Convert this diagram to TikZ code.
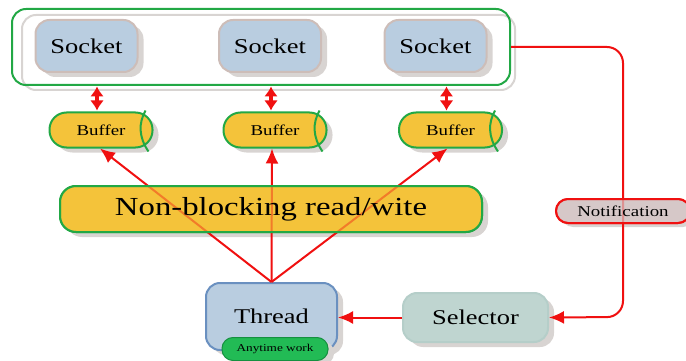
\documentclass[tikz,border=0pt]{standalone}
\usepackage{fontspec}
\setmainfont{Liberation Serif}[FakeStretch=1.26]
\usetikzlibrary{arrows.meta,shadows}
\definecolor{sockfill}{HTML}{B9CDE0}
\definecolor{sockline}{HTML}{CDBDB8}
\definecolor{buffill}{HTML}{F4C33A}
\definecolor{gline}{HTML}{22A845}
\definecolor{selfill}{HTML}{BFD5D0}
\definecolor{selline}{HTML}{B5CEC9}
\definecolor{notfill}{HTML}{D6C8C8}
\definecolor{thrline}{HTML}{6A90C0}
\definecolor{anyfill}{HTML}{22BB55}
\definecolor{anyline}{HTML}{159040}
\definecolor{shadowgray}{HTML}{D8D4D2}
\definecolor{rline}{HTML}{F01010}
\tikzset{
  fs/.style={font=\fontsize{#1}{#1}\selectfont},
  shad/.style={drop shadow={shadow xshift=6pt,shadow yshift=-5pt,fill=shadowgray,opacity=1}},
  box/.style={draw,line width=2pt,inner sep=0pt,shad},
  sockbox/.style={box,fill=sockfill,draw=sockline,minimum width=102pt,minimum height=52pt,rounded corners=14pt,fs=21},
  bufbox/.style={box,fill=buffill,draw=gline,minimum width=103pt,minimum height=35pt,rounded corners=17pt,fs=15},
  nbbox/.style={draw=gline,line width=2pt,inner sep=0pt,minimum width=422pt,minimum height=46pt,rounded corners=16pt,fs=26},
  ntbox/.style={draw=rline,line width=2pt,inner sep=0pt,minimum width=134pt,minimum height=24pt,rounded corners=12pt,fs=15},
  conn/.style={draw=rline,line width=2pt},
  bigtip/.style={-{Latex[length=15pt,width=13pt]}},
  dbl/.style={draw=rline,line width=3.5pt,{Latex[length=10pt,width=14pt]}-{Latex[length=10pt,width=14pt]}},
}
\begin{document}
\begin{tikzpicture}[x=1pt,y=-1pt]
\useasboundingbox (0,0) rectangle (686,361);
\clip (0,0) rectangle (686,361);
% socket frame
\draw[shadowgray,line width=2pt,rounded corners=14pt] (22,15) rectangle (515,90);
\node[draw=gline,line width=2pt,rounded corners=14pt,minimum width=498pt,minimum height=76pt] (fr) at (261,47) {};
\node[sockbox] (s1) at (86.5,46) {Socket};
\node[sockbox] (s2) at (270,46) {Socket};
\node[sockbox] (s3) at (435.5,46) {Socket};
% buffers
\node[bufbox] (b1) at (101,130) {Buffer};
\node[bufbox] (b2) at (275,130) {Buffer};
\node[bufbox] (b3) at (450.5,130) {Buffer};
\foreach \b in {b1,b2,b3}{
  \draw[gline,line width=2pt] ([xshift=-8pt,yshift=1pt]\b.north east) .. controls ([xshift=-15pt,yshift=7pt]\b.east) and ([xshift=-15pt,yshift=-7pt]\b.east) .. ([xshift=-5pt,yshift=-3pt]\b.south east);
}
% socket <-> buffer
\foreach \b in {b1,b2,b3}{
  \draw[dbl] ([xshift=-4pt,yshift=1pt]\b.north) -- ([xshift=-4pt,yshift=25pt]\b.north);
}
% thread and its fan of arrows
\node[box,fill=sockfill,draw=thrline,minimum width=131pt,minimum height=67pt,rounded corners=14pt,fs=21] (th) at (271.5,316.5) {Thread};
\node[nbbox,fill=buffill,shad] (nb) at (271,209) {};
\draw[conn,bigtip] (th.north) -- ([xshift=-1pt]b1.south);
\draw[conn,bigtip] (th.north) -- ([xshift=-3pt]b2.south);
\draw[conn,bigtip] (th.north) -- ([xshift=-3pt]b3.south);
% the box is laid again, half clear, over the arrows
\node[nbbox,fill=buffill,fill opacity=0.6,text opacity=1] at (nb) {Non-blocking read/wite};
\node[draw=anyline,fill=anyfill,line width=1pt,inner sep=0pt,minimum width=106pt,minimum height=23pt,rounded corners=11pt,fs=10.5,drop shadow={shadow xshift=6pt,shadow yshift=-4pt,fill=shadowgray,opacity=1}] (any) at (275,349) {Anytime work};
% selector and notification path
\node[box,fill=selfill,draw=selline,minimum width=145pt,minimum height=49pt,rounded corners=14pt,fs=21] (sel) at (475.5,317.5) {Selector};
\node[ntbox,fill=notfill,drop shadow={shadow xshift=5pt,shadow yshift=-4pt,fill=shadowgray,opacity=1}] (nt) at (623,211) {};
\coordinate (c1) at (623,47);
\coordinate (c2) at (623,317);
\draw[conn,rounded corners=16pt,bigtip] (fr.east) -- (c1) -- (c2) -- (sel.east);
\draw[conn,bigtip] (sel.west) -- (th.east |- sel.west);
\node[ntbox,fill=notfill,fill opacity=0.7,text opacity=1] at (nt) {Notification};
\end{tikzpicture}
\end{document}
